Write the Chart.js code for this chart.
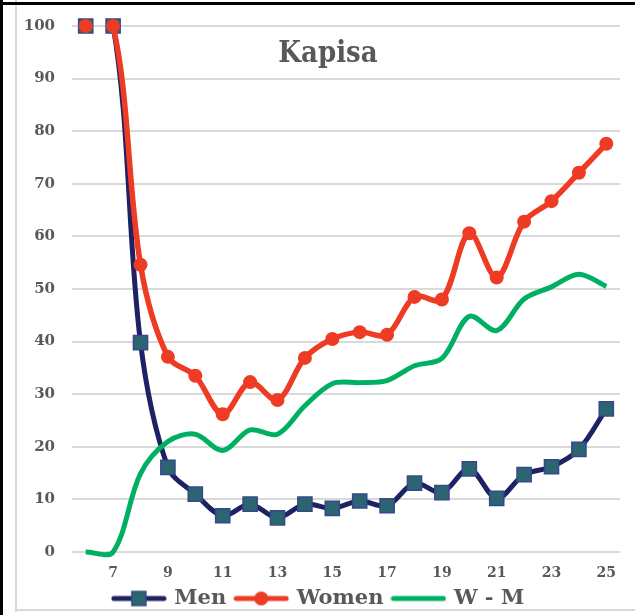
<!DOCTYPE html>
<html>
<head>
<meta charset="utf-8">
<script src="https://cdn.jsdelivr.net/npm/chart.js@4/dist/chart.umd.min.js"></script>
<style>
  body { margin: 0; background: #fff; }
  #wrap { position: relative; width: 635px; height: 615px; }
</style>
</head>
<body>
<div id="wrap"><canvas id="chart" width="635" height="615"></canvas></div>
<script>
/* -------- DATA -------- */
const ages = ["6","7","8","9","10","11","12","13","14","15","16","17","18","19","20","21","22","23","24","25"];
const men   = [100, 100, 39.8, 16.1, 11.0, 6.9, 9.1, 6.5, 9.1, 8.3, 9.7, 8.8, 13.1, 11.3, 15.8, 10.2, 14.7, 16.2, 19.5, 27.2];
const women = [100, 100, 54.6, 37.1, 33.5, 26.2, 32.3, 28.9, 36.9, 40.5, 41.8, 41.3, 48.5, 48.0, 60.6, 52.2, 62.8, 66.7, 72.1, 77.6];
const gap   = [0, 0, 14.9, 21.0, 22.4, 19.3, 23.2, 22.4, 27.8, 32.0, 32.2, 32.6, 35.4, 36.8, 44.8, 42.1, 48.1, 50.4, 52.8, 50.5];
const yTicks = [0, 10, 20, 30, 40, 50, 60, 70, 80, 90, 100];

const NAVY = "#1f2262", TEAL = "#2d6472", MARK_EDGE = "#34498a";
const RED = "#ee3b24", GREEN = "#00b062", GREY = "#595959";
const SERIF = "'DejaVu Serif', 'Liberation Serif', serif";

/* legend swatch: line with marker in the middle */
function swatch(color, lw, marker){
  const c = document.createElement("canvas");
  c.width = 56; c.height = 18;
  const g = c.getContext("2d");
  g.strokeStyle = color; g.lineWidth = lw; g.lineCap = "round";
  g.beginPath(); g.moveTo(3, 9); g.lineTo(53, 9); g.stroke();
  if(marker === "rect"){
    g.fillStyle = TEAL; g.strokeStyle = MARK_EDGE; g.lineWidth = 1.5;
    g.fillRect(21, 2, 14, 14); g.strokeRect(21, 2, 14, 14);
  } else if(marker === "circle"){
    g.fillStyle = RED;
    g.beginPath(); g.arc(28, 9, 7, 0, Math.PI*2); g.fill();
  }
  return c;
}
const swatches = [swatch(NAVY, 5, "rect"), swatch(RED, 5, "circle"), swatch(GREEN, 5, null)];

/* frame + title drawn on the canvas */
const framePlugin = {
  id: "frame",
  beforeDraw(chart){
    const {ctx} = chart;
    ctx.save();
    ctx.fillStyle = "#d9d9d9";
    ctx.fillRect(15, 0, 2, 612);
    ctx.fillRect(15, 609, 620, 2);
    ctx.fillStyle = "#000";
    ctx.fillRect(0, 2, 635, 3);
    ctx.fillRect(0, 0, 3, 615);
    ctx.restore();
  },
  afterDraw(chart){
    const {ctx} = chart;
    ctx.save();
    ctx.font = "bold 29px 'DejaVu Serif Condensed', " + SERIF;
    ctx.fillStyle = GREY;
    ctx.textAlign = "center";
    ctx.textBaseline = "alphabetic";
    ctx.fillText("Kapisa", 328, 62);
    ctx.restore();
  }
};

const hideFirst = ctx => ctx.p0DataIndex === 0 ? "rgba(0,0,0,0)" : undefined;

new Chart(document.getElementById("chart"), {
  type: "line",
  data: {
    labels: ages,
    datasets: [
      {
        label: "Men", data: men,
        borderColor: NAVY, borderWidth: 5, tension: 0.33,
        pointStyle: "rect", pointRadius: 10, pointBackgroundColor: TEAL,
        pointBorderColor: MARK_EDGE, pointBorderWidth: 1.5,
        segment: { borderColor: hideFirst },
        clip: false, order: 3
      },
      {
        label: "Women", data: women,
        borderColor: RED, borderWidth: 5.5, tension: 0.33,
        pointStyle: "circle", pointRadius: 7, pointBackgroundColor: RED,
        pointBorderColor: RED, pointBorderWidth: 0,
        segment: { borderColor: hideFirst },
        clip: false, order: 2
      },
      {
        label: "W - M", data: gap,
        borderColor: GREEN, borderWidth: 5, tension: 0.33,
        capBezierPoints: false,
        pointRadius: 0, clip: false, order: 1
      }
    ]
  },
  options: {
    responsive: false,
    animation: false,
    layout: { padding: { top: 16, right: 15, bottom: -4, left: 18 } },
    scales: {
      x: {
        offset: true,
        grid: { display: false },
        border: { display: false },
        ticks: {
          autoSkip: false, maxRotation: 0, padding: 5,
          color: GREY, font: { family: SERIF, weight: "bold", size: 14 },
          callback: (v, i) => (Number(ages[i]) % 2 === 1 ? ages[i] : "")
        },
        afterFit: s => { s.height = 26; }
      },
      y: {
        min: 0, max: 100,
        afterBuildTicks: s => { s.ticks = yTicks.map(v => ({ value: v })); },
        grid: { color: "#d9d9d9", lineWidth: 2, drawTicks: false },
        border: { display: false },
        ticks: {
          padding: 17, color: GREY,
          font: { family: SERIF, weight: "bold", size: 15 }
        },
        afterFit: s => { s.width = 54; }
      }
    },
    plugins: {
      legend: {
        position: "bottom",
        labels: {
          usePointStyle: true,
          pointStyleWidth: 50,
          padding: 10,
          color: GREY,
          font: { family: SERIF, weight: "bold", size: 21 },
          generateLabels: chart => chart.data.datasets.map((d, i) => ({
            text: d.label, pointStyle: swatches[i], fontColor: GREY,
            datasetIndex: i, hidden: false, lineWidth: 0,
            strokeStyle: "rgba(0,0,0,0)", fillStyle: "rgba(0,0,0,0)"
          }))
        }
      },
      tooltip: { enabled: false }
    }
  },
  plugins: [framePlugin]
});
</script>
</body>
</html>
